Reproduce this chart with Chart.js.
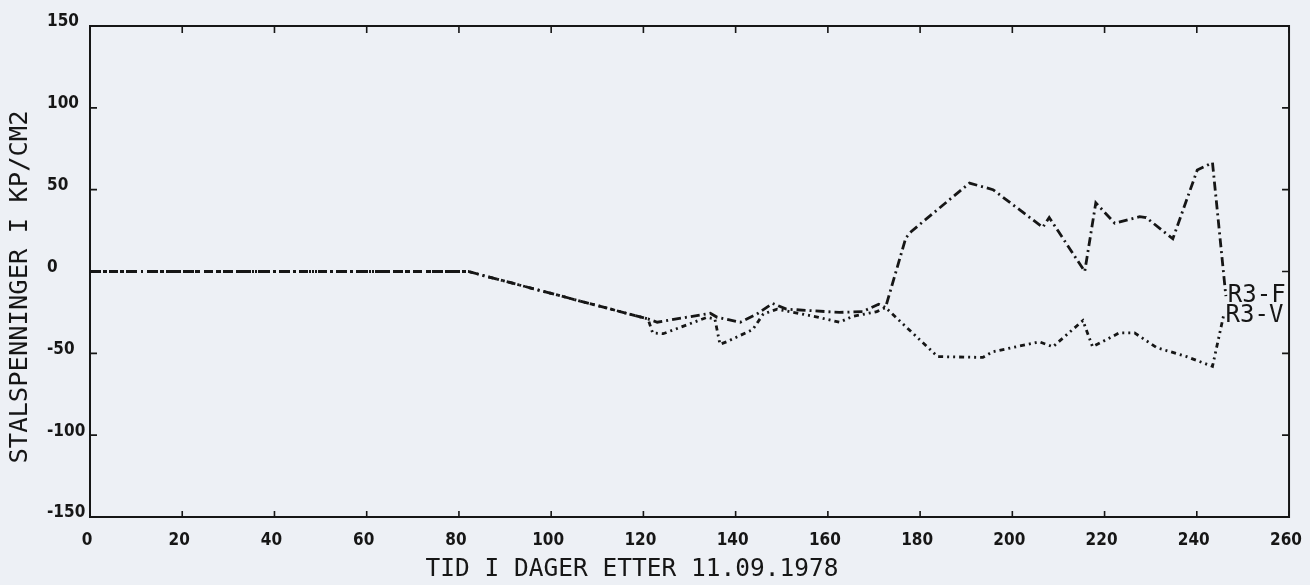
<!DOCTYPE html>
<html>
<head>
<meta charset="utf-8">
<title>Stalspenninger R3</title>
<script src="https://cdn.jsdelivr.net/npm/chart.js@4.4.1/dist/chart.umd.min.js"></script>
<style>
    html, body { margin: 0; padding: 0; background: #edf0f5; }
    #wrap { width: 1310px; height: 585px; }
</style>
</head>
<body>
<div id="wrap"><canvas id="stressChart"></canvas></div>
<script>
// dager etter 11.09.1978 / stalspenning i kp/cm2, lest av plottet
const daysF = [0, 82, 121, 123, 134.5, 136, 141, 144.6, 148, 151, 162.5, 167.5, 171, 172.5, 176.9, 178.1, 190.7, 195.8, 206.6, 208, 215.7, 218.1, 222.2, 227.6, 229, 234.8, 240.1, 243.4, 246.3];
const valuesF = [0, 0, -29, -31, -25.5, -28, -31, -26, -19.5, -23, -25, -24.5, -20, -22, 20.5, 24.5, 54, 50, 27, 33, 0, 42, 29.5, 33.5, 33, 20, 62, 66.5, -15];
const daysV = [0, 82, 121, 122, 124.3, 133.8, 135.5, 136.6, 138, 143.7, 146, 149, 158, 162.5, 165.3, 170.6, 172.5, 183.8, 193.6, 195.8, 205.9, 208.8, 215.3, 217.4, 223.2, 226.5, 231.3, 237.8, 243.4, 245.8];
const valuesV = [0, 0, -29, -37.5, -38, -28, -29, -44.5, -43, -35.5, -26, -23, -28, -31, -27.5, -24.5, -22, -52, -52.5, -49, -43, -46, -30, -46, -37.5, -37.5, -46.5, -52, -58, -27];
const seriesNames = ['R3-F', 'R3-V'];
const xTitle = 'TID I DAGER ETTER 11.09.1978';
const yTitle = 'STALSPENNINGER I KP/CM2';

const paper = '#edf0f5';
const ink = '#161616';
const plotterFont = '"DejaVu Sans Mono", "Liberation Mono", monospace';
const tickFont = { family: '"Liberation Sans Narrow", "DejaVu Sans Condensed", sans-serif', weight: 'bold', size: 17 };

const toPoints = (xs, ys) => xs.map((d, i) => ({ x: d, y: ys[i] }));

// rammen, innoverrettede merker, titler og kurvenavn
const plotterDecor = {
    id: 'plotterDecor',
    beforeDraw(chart) {
        const ctx = chart.ctx;
        ctx.save();
        ctx.fillStyle = paper;
        ctx.fillRect(0, 0, chart.width, chart.height);
        ctx.restore();
    },
    afterDraw(chart) {
        const { ctx, chartArea: a, scales } = chart;
        ctx.save();
        ctx.strokeStyle = ink;
        ctx.lineWidth = 2;
        ctx.strokeRect(a.left, a.top, a.right - a.left, a.bottom - a.top);

        ctx.lineWidth = 1.6;
        ctx.beginPath();
        scales.x.ticks.forEach(t => {
            const px = scales.x.getPixelForValue(t.value);
            ctx.moveTo(px, a.top); ctx.lineTo(px, a.top + 7);
            ctx.moveTo(px, a.bottom); ctx.lineTo(px, a.bottom - 6);
        });
        scales.y.ticks.forEach(t => {
            const py = scales.y.getPixelForValue(t.value);
            ctx.moveTo(a.left, py); ctx.lineTo(a.left + 7, py);
            ctx.moveTo(a.right, py); ctx.lineTo(a.right - 7, py);
        });
        ctx.stroke();

        ctx.fillStyle = ink;
        ctx.textBaseline = 'middle';
        ctx.textAlign = 'center';
        ctx.font = '24.5px ' + plotterFont;
        ctx.fillText(xTitle, 632, 570);

        ctx.save();
        ctx.translate(20, 287);
        ctx.rotate(-Math.PI / 2);
        ctx.font = '25.5px ' + plotterFont;
        ctx.fillText(yTitle, 0, 0);
        ctx.restore();

        ctx.textAlign = 'left';
        ctx.font = '24px ' + plotterFont;
        chart.data.datasets.forEach((ds, i) => {
            const pts = chart.getDatasetMeta(i).data;
            const last = pts[pts.length - 1];
            ctx.fillText(ds.label, last.x + 2, last.y);
        });
        ctx.restore();
    }
};

new Chart(document.getElementById('stressChart'), {
    type: 'line',
    data: {
        datasets: [{
            label: seriesNames[0],
            data: toPoints(daysF, valuesF),
            borderColor: ink,
            borderWidth: 2.8,
            borderDash: [9, 4, 2, 4],
            pointRadius: 0,
            tension: 0
        }, {
            label: seriesNames[1],
            data: toPoints(daysV, valuesV),
            borderColor: ink,
            borderWidth: 2.8,
            borderDash: [5, 4, 2, 4, 2, 4],
            pointRadius: 0,
            tension: 0
        }]
    },
    options: {
        responsive: true,
        maintainAspectRatio: false,
        animation: false,
        layout: { padding: { left: 47, top: 26, right: 18, bottom: 0 } },
        plugins: {
            legend: { display: false },
            tooltip: { enabled: false }
        },
        scales: {
            x: {
                type: 'linear',
                min: 0,
                max: 260,
                grid: { display: false },
                border: { display: false },
                ticks: {
                    stepSize: 20,
                    padding: 5,
                    labelOffset: -3,
                    color: ink,
                    font: tickFont
                },
                afterFit(scale) { scale.height = 68; }
            },
            y: {
                type: 'linear',
                min: -150,
                max: 150,
                grid: { display: false },
                border: { display: false },
                ticks: {
                    stepSize: 50,
                    crossAlign: 'far',
                    labelOffset: -4,
                    color: ink,
                    font: tickFont
                },
                afterFit(scale) { scale.width = 43; }
            }
        }
    },
    plugins: [plotterDecor]
});
</script>
</body>
</html>
